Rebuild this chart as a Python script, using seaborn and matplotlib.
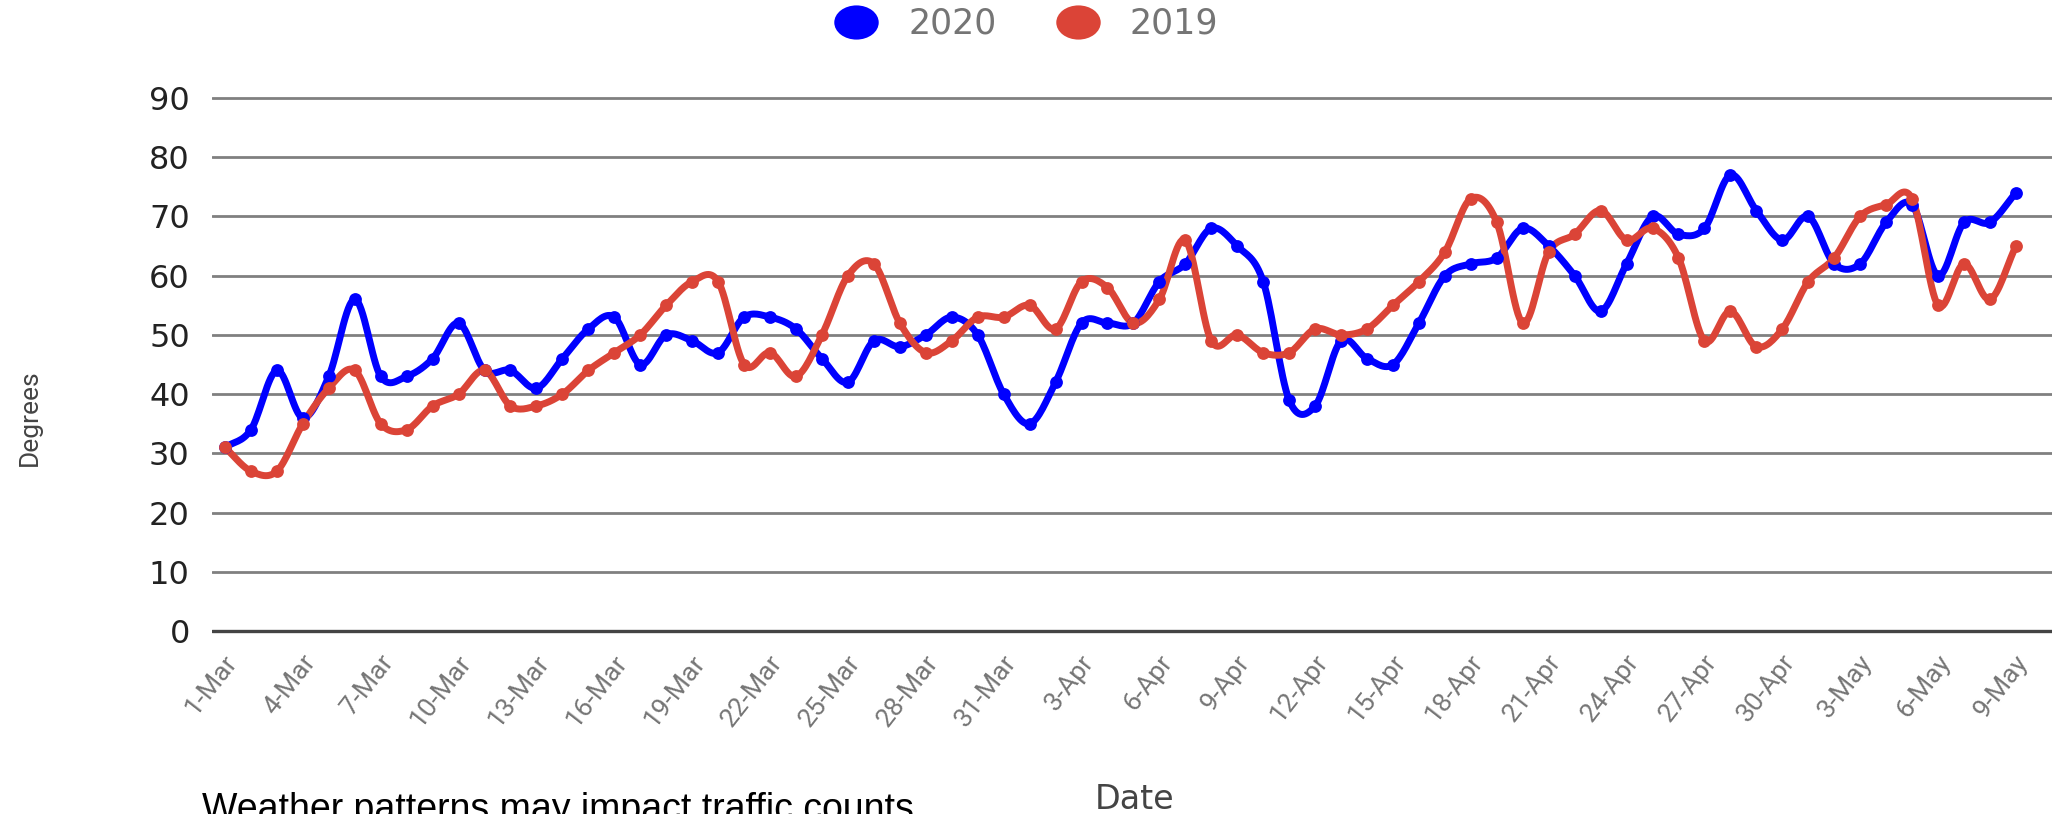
import numpy as np
import pandas as pd
import matplotlib
matplotlib.use("Agg")
import matplotlib.pyplot as plt
import seaborn as sns
from matplotlib.lines import Line2D
from matplotlib.path import Path
from matplotlib.transforms import ScaledTranslation

# daily temperatures, 1-Mar .. 9-May
dates = pd.date_range("2020-03-01", "2020-05-09", freq="D")
temps_2020 = [31, 34, 44, 36, 43, 56, 43, 43, 46, 52, 44, 44, 41, 46, 51, 53, 45, 50, 49, 47,
              53, 53, 51, 46, 42, 49, 48, 50, 53, 50, 40,
              35, 42, 52, 52, 52, 59, 62, 68, 65, 59, 39, 38, 49, 46, 45, 52, 60, 62, 63,
              68, 65, 60, 54, 62, 70, 67, 68, 77, 71,
              66, 70, 62, 62, 69, 72, 60, 69, 69, 74]
temps_2019 = [31, 27, 27, 35, 41, 44, 35, 34, 38, 40, 44, 38, 38, 40, 44, 47, 50, 55, 59, 59,
              45, 47, 43, 50, 60, 62, 52, 47, 49, 53, 53,
              55, 51, 59, 58, 52, 56, 66, 49, 50, 47, 47, 51, 50, 51, 55, 59, 64, 73, 69,
              52, 64, 67, 71, 66, 68, 63, 49, 54, 48,
              51, 59, 63, 70, 72, 73, 55, 62, 56, 65]
series_names = ["2020", "2019"]
series_colors = ["#0000FF", "#DB4437"]
y_ticks = [0, 10, 20, 30, 40, 50, 60, 70, 80, 90]
tick_step = 3


def smooth(y, n=16):
    """Catmull-Rom style curve through the points (only for drawing)."""
    y = np.asarray(y, dtype=float)
    m = np.gradient(y)
    xs, ys = [], []
    for i in range(len(y) - 1):
        t = np.linspace(0, 1, n, endpoint=False)
        h00 = 2 * t**3 - 3 * t**2 + 1
        h10 = t**3 - 2 * t**2 + t
        h01 = -2 * t**3 + 3 * t**2
        h11 = t**3 - t**2
        xs.append(i + t)
        ys.append(h00 * y[i] + h10 * m[i] + h01 * y[i + 1] + h11 * m[i + 1])
    xs.append([len(y) - 1])
    ys.append([y[-1]])
    return np.concatenate(xs), np.concatenate(ys)


W, H = 2052, 814
sns.set_style("white")
plt.rcParams["font.family"] = ["Roboto", "DejaVu Sans"]

fig = plt.figure(figsize=(W / 100, H / 100), dpi=100)
ax = fig.add_axes([212 / W, (H - 634) / H, 1 - 212 / W, (634 - 95) / H])

day = np.arange(len(dates))
for name, vals, col in zip(series_names, [temps_2020, temps_2019], series_colors):
    cx, cy = smooth(vals)
    sns.lineplot(x=cx, y=cy, ax=ax, color=col, lw=5.0, sort=False, estimator=None, zorder=3)
    sns.scatterplot(x=day, y=vals, ax=ax, color=col, s=85, linewidth=0, zorder=4)

ax.set_xlim(-0.5, len(dates) - 1 + 1.39)
ax.set_ylim(-0.5, 90.5)
ax.set_yticks(y_ticks)
for v in y_ticks[1:]:
    ax.axhline(v, color="#808080", lw=2.0, zorder=1)
ax.axhline(0, color="#444444", lw=2.4, zorder=1)
for s in ax.spines.values():
    s.set_visible(False)

ax.tick_params(axis="y", length=0, pad=16, labelsize=23, labelcolor="#222222")
for lab in ax.get_yticklabels():
    lab.set_fontfamily("DejaVu Sans")

xt = day[::tick_step]
ax.set_xticks(xt)
ax.set_xticklabels([f"{d.day}-{d:%b}" for d in dates[::tick_step]],
                   rotation=52, ha="right", va="center", rotation_mode="anchor")
ax.tick_params(axis="x", length=0, pad=17, labelsize=19, labelcolor="#757575")
off = ScaledTranslation(0.08, 0, fig.dpi_scale_trans)
for lab in ax.get_xticklabels():
    lab.set_transform(lab.get_transform() + off)
ax.set_xlabel("")
ax.set_ylabel("")

fig.text(30 / W, 1 - 418 / H, "Degrees", rotation=90, ha="center", va="center",
         fontsize=19, color="#444444")
fig.text(1135 / W, 1 - 783 / H, "Date", ha="center", va="top",
         fontsize=24, color="#444444", family="DejaVu Sans")
fig.text(202 / W, 1 - 792 / H, "Weather patterns may impact traffic counts", ha="left", va="top",
         fontsize=27, color="black", family="Liberation Sans")

# legend with oval markers
circ = Path.unit_circle()
oval = Path(circ.vertices * [1.3, 1.0], circ.codes)
handles = [Line2D([], [], ls="none", marker=oval, markersize=32, color=c, markeredgewidth=0)
           for c in series_colors]
leg = fig.legend(handles, series_names, loc="center", bbox_to_anchor=(0.5, 1 - 24 / H), ncol=2,
                 frameon=False, labelcolor="#757575", handlelength=1.3,
                 handletextpad=0.85, columnspacing=1.7, prop={"family": "DejaVu Sans", "size": 25})

fig.savefig("out.png", dpi=100, facecolor="white")
